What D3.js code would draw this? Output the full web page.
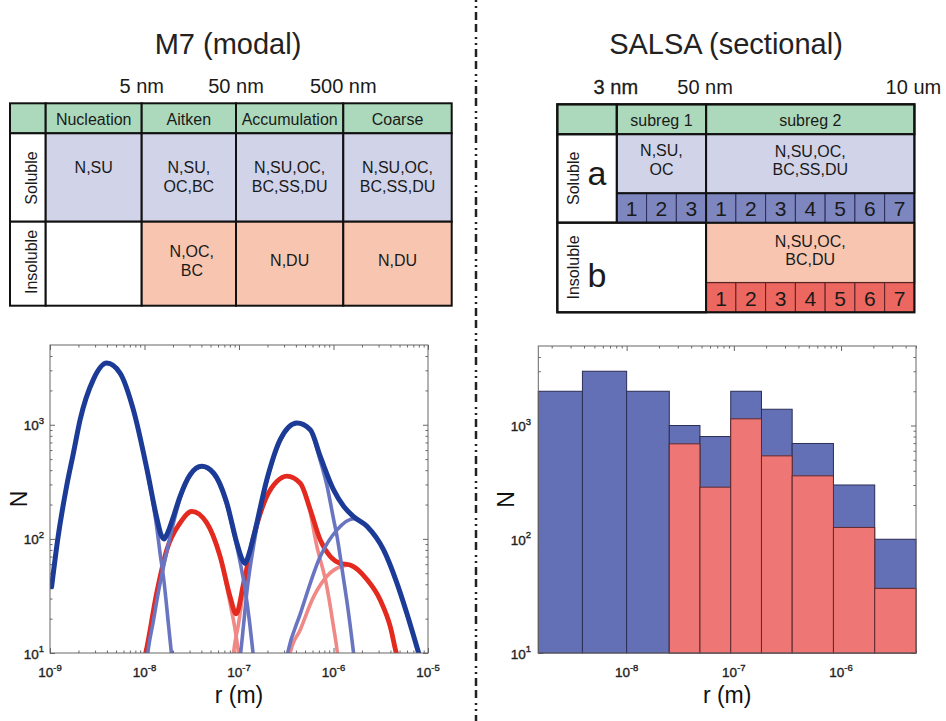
<!DOCTYPE html>
<html>
<head>
<meta charset="utf-8">
<script src="https://cdn.jsdelivr.net/npm/d3@7"></script>
<style>
  body { margin: 0; background: #fff; }
  svg { display: block; font-family: "Liberation Sans", Arial, Helvetica, sans-serif; }
</style>
</head>
<body>
<div id="chart"></div>
<script>
// ---- table contents ----
var m7Modes = ["Nucleation", "Aitken", "Accumulation", "Coarse"];
var m7Sizes = ["5 nm", "50 nm", "500 nm"];
var m7Soluble = [["N,SU"], ["N,SU,", "OC,BC"], ["N,SU,OC,", "BC,SS,DU"], ["N,SU,OC,", "BC,SS,DU"]];
var m7Insoluble = [[], ["N,OC,", "BC"], ["N,DU"], ["N,DU"]];

var salsaSizes = ["3 nm", "50 nm", "10 um"];
var salsaSubregs = ["subreg 1", "subreg 2"];
var salsaSoluble = [["N,SU,", "OC"], ["N,SU,OC,", "BC,SS,DU"]];
var salsaInsoluble = ["N,SU,OC,", "BC,DU"];
var salsaBinsA = [1, 2, 3, 1, 2, 3, 4, 5, 6, 7];
var salsaBinsB = [1, 2, 3, 4, 5, 6, 7];

// ---- M7 curves, [r (m), N] ----
var nuclSol = [[1.04e-9,38],[1.22e-9,105],[1.50e-9,290],[1.77e-9,565],[2.08e-9,1100],[2.88e-9,2500],[3.98e-9,3470],[5.51e-9,2840],[7.63e-9,1350],[1.06e-8,400],[1.35e-8,125],[1.46e-8,75],[1.61e-8,42],[1.79e-8,18],[1.95e-8,9],[2.1e-8,5]];
var aitkenSol = [[1.05e-8,8],[1.10e-8,11],[1.24e-8,19],[1.40e-8,34],[1.61e-8,60],[1.87e-8,105],[2.38e-8,225],[3.04e-8,360],[4.04e-8,432],[5.37e-8,372],[7.43e-8,198],[8.75e-8,115],[1.03e-7,62],[1.16e-7,36],[1.29e-7,19],[1.39e-7,11],[1.45e-7,8]];
var accumSol = [[1.0e-7,8],[1.04e-7,10],[1.12e-7,18],[1.21e-7,34],[1.43e-7,88],[1.97e-7,322],[2.73e-7,725],[4.10e-7,1035],[5.68e-7,895],[7.24e-7,485],[8.51e-7,295],[1.0e-6,150],[1.09e-6,105],[1.28e-6,44],[1.39e-6,28],[1.63e-6,10],[1.75e-6,6]];
var coarseSol = [[3.1e-7,8],[3.27e-7,10],[4.45e-7,22],[7.24e-7,70],[1.09e-6,120],[1.63e-6,150],[2.26e-6,129],[3.39e-6,80],[4.69e-6,41],[6.0e-6,22],[7.96e-6,10],[9.0e-6,7]];
var totalSol = [[1.04e-9,38],[1.22e-9,105],[1.50e-9,290],[1.77e-9,565],[2.08e-9,1100],[2.88e-9,2500],[3.98e-9,3470],[5.51e-9,2840],[7.63e-9,1350],[1.06e-8,410],[1.35e-8,152],[1.50e-8,108],[1.61e-8,100],[1.75e-8,112],[2.0e-8,152],[2.38e-8,236],[3.04e-8,365],[4.04e-8,432],[5.37e-8,378],[7.43e-8,206],[9.48e-8,92],[1.08e-7,66],[1.16e-7,61],[1.25e-7,70],[1.43e-7,105],[1.97e-7,330],[2.73e-7,740],[4.10e-7,1035],[5.68e-7,904],[7.24e-7,528],[1.0e-6,270],[1.28e-6,193],[1.63e-6,157],[2.26e-6,129],[3.39e-6,80],[4.69e-6,41],[6.0e-6,22],[7.96e-6,10],[9.0e-6,7]];

var aitkenIns = [[1.0e-8,9],[1.03e-8,10],[1.35e-8,34],[1.72e-8,80],[2.38e-8,138],[3.17e-8,174],[4.56e-8,138],[6.32e-8,70],[8.06e-8,27],[9.10e-8,16],[9.88e-8,10],[1.04e-7,7]];
var accumIns = [[8.4e-8,7],[8.75e-8,10],[9.88e-8,18],[1.12e-7,36],[1.43e-7,100],[1.97e-7,236],[2.52e-7,319],[3.21e-7,355],[4.45e-7,300],[5.22e-7,230],[6.67e-7,86],[8.51e-7,38],[1.0e-6,17],[1.10e-6,10],[1.15e-6,7]];
var coarseIns = [[3.3e-7,7],[3.48e-7,10],[4.45e-7,16],[6.15e-7,31],[8.51e-7,47],[1.18e-6,57],[1.50e-6,59],[2.26e-6,44],[3.13e-6,29],[3.99e-6,17],[4.62e-6,10],[5.0e-6,8]];
var totalIns = [[1.0e-8,9],[1.03e-8,10],[1.35e-8,34],[1.72e-8,80],[2.38e-8,138],[3.17e-8,174],[4.56e-8,138],[6.32e-8,70],[8.06e-8,31],[9.33e-8,22],[1.12e-7,41],[1.43e-7,105],[1.97e-7,236],[2.52e-7,319],[3.21e-7,355],[4.45e-7,308],[5.68e-7,180],[7.24e-7,98],[9.25e-7,70],[1.18e-6,61],[1.50e-6,59],[2.26e-6,44],[3.13e-6,29],[3.99e-6,17],[4.62e-6,10],[5.0e-6,8]];

// ---- SALSA bins ----
var binEdges = [1.5e-9, 3.87e-9, 1.0e-8, 2.5e-8, 4.83e-8, 9.35e-8, 1.81e-7, 3.5e-7, 8.49e-7, 2.06e-6, 5.0e-6];
var binTotal = [2000, 3000, 2000, 1000, 800, 2000, 1390, 695, 300, 100];
var binInsoluble = [null, null, null, 690, 287, 1145, 541, 361, 127, 37];

// ---- colours ----
var green = "#acd9bb", lavender = "#d1d3e8", salmon = "#f8c6b0";
var boxBlue = "#7e86c0", boxRed = "#ec675f";
var lineBlue = "#1c3b97", lineBlueLight = "#6a75c2", lineRed = "#e4291f", lineRedLight = "#f08886";
var barBlue = "#6470b6", barRed = "#ee7674";
var ink = "#1a1a1a";

var svg = d3.select("#chart").append("svg")
    .attr("width", 946)
    .attr("height", 721);

// dash-dot divider
svg.append("line")
    .attr("x1", 476).attr("x2", 476).attr("y1", 0).attr("y2", 721)
    .attr("stroke", "#222").attr("stroke-width", 2.5)
    .attr("stroke-dasharray", "2,4,2,4,8,4,8,5");

svg.append("text").attr("x", 228).attr("y", 54).attr("text-anchor", "middle")
    .attr("font-size", 29).attr("fill", "#222").text("M7 (modal)");
svg.append("text").attr("x", 726).attr("y", 54).attr("text-anchor", "middle")
    .attr("font-size", 29).attr("fill", "#222").text("SALSA (sectional)");

// write multi-line text centred on x, first baseline at y
function lines(g, arr, x, y, lh) {
  var t = g.append("text").attr("text-anchor", "middle").attr("font-size", 16).attr("fill", ink);
  arr.forEach(function(s, i) {
    t.append("tspan").attr("x", x).attr("y", y + i * lh).text(s);
  });
  return t;
}
function rotLabel(g, s, x, y) {
  g.append("text")
      .attr("transform", "translate(" + x + "," + y + ") rotate(-90)")
      .attr("text-anchor", "middle").attr("dy", "0.35em")
      .attr("font-size", 16).attr("fill", ink).text(s);
}
function cell(g, x0, y0, x1, y1, fill, sw) {
  g.append("rect").attr("x", x0).attr("y", y0).attr("width", x1 - x0).attr("height", y1 - y0)
      .attr("fill", fill).attr("stroke", "#111").attr("stroke-width", sw || 2);
}

// ---------- M7 table ----------
var mx = [10, 45.7, 141.7, 236, 343.3, 451.7];
var my = [103.3, 133.3, 221.7, 305.7];
var t1 = svg.append("g");

m7Sizes.forEach(function(s, i) {
  t1.append("text").attr("x", mx[i + 2]).attr("y", 93).attr("text-anchor", "middle")
      .attr("font-size", 20).attr("fill", ink).text(s);
});
cell(t1, mx[0], my[0], mx[1], my[1], green);
cell(t1, mx[0], my[1], mx[1], my[2], "#fff");
cell(t1, mx[0], my[2], mx[1], my[3], "#fff");
m7Modes.forEach(function(m, i) {
  var a = mx[i + 1], b = mx[i + 2], c = (a + b) / 2;
  cell(t1, a, my[0], b, my[1], green);
  cell(t1, a, my[1], b, my[2], lavender);
  cell(t1, a, my[2], b, my[3], m7Insoluble[i].length ? salmon : "#fff");
  lines(t1, [m], c, 125, 19);
  lines(t1, m7Soluble[i], c, 172.5, 19);
  var n = m7Insoluble[i].length;
  lines(t1, m7Insoluble[i], c + (n === 2 ? 3 : 0), 266 - (n - 1) * 9.5, 19);
});
rotLabel(t1, "Soluble", 31, 178);
rotLabel(t1, "Insoluble", 31, 262);

// ---------- SALSA table ----------
var bw = 29.76;
var sx0 = 557.3, sx1 = sx0 + 2 * bw, sx2 = sx1 + 3 * bw, sx3 = sx2 + 7 * bw;
var sy = [104.3, 134.3, 193.3, 222.7, 282.7, 312.3];
var t2 = svg.append("g");

[sx1, sx2, sx3].forEach(function(x, i) {
  t2.append("text").attr("x", x - 1).attr("y", 94).attr("text-anchor", "middle")
      .attr("font-size", 20).attr("fill", ink)
      .attr("stroke", i === 0 ? ink : "none").attr("stroke-width", 0.3)
      .text(salsaSizes[i]);
});
cell(t2, sx0, sy[0], sx1, sy[1], green);
cell(t2, sx1, sy[0], sx2, sy[1], green);
cell(t2, sx2, sy[0], sx3, sy[1], green);
lines(t2, [salsaSubregs[0]], (sx1 + sx2) / 2, 126, 19);
lines(t2, [salsaSubregs[1]], (sx2 + sx3) / 2, 126, 19);

cell(t2, sx0, sy[1], sx1, sy[3], "#fff");
cell(t2, sx1, sy[1], sx2, sy[2], lavender, 1.5);
cell(t2, sx2, sy[1], sx3, sy[2], lavender, 1.5);
lines(t2, salsaSoluble[0], (sx1 + sx2) / 2, 156, 18.6);
lines(t2, salsaSoluble[1], (sx2 + sx3) / 2, 156.5, 18.6);

t2.selectAll(".boxa").data(salsaBinsA).enter().append("rect")
    .attr("x", function(d, i) { return sx1 + i * bw; })
    .attr("y", sy[2]).attr("width", bw).attr("height", sy[3] - sy[2])
    .attr("fill", boxBlue).attr("stroke", "#2a2d55").attr("stroke-width", 1);
t2.selectAll(".numa").data(salsaBinsA).enter().append("text")
    .attr("x", function(d, i) { return sx1 + (i + 0.5) * bw; })
    .attr("y", 216).attr("text-anchor", "middle").attr("font-size", 21).attr("fill", ink)
    .text(function(d) { return d; });

cell(t2, sx0, sy[3], sx2, sy[5], "#fff");
cell(t2, sx2, sy[3], sx3, sy[4], salmon, 1.5);
lines(t2, salsaInsoluble, (sx2 + sx3) / 2, 246.5, 18.6);
t2.selectAll(".boxb").data(salsaBinsB).enter().append("rect")
    .attr("x", function(d, i) { return sx2 + i * bw; })
    .attr("y", sy[4]).attr("width", bw).attr("height", sy[5] - sy[4])
    .attr("fill", boxRed).attr("stroke", "#5a2228").attr("stroke-width", 1);
t2.selectAll(".numb").data(salsaBinsB).enter().append("text")
    .attr("x", function(d, i) { return sx2 + (i + 0.5) * bw; })
    .attr("y", 305.5).attr("text-anchor", "middle").attr("font-size", 21).attr("fill", ink)
    .text(function(d) { return d; });

// heavy table lines
t2.append("rect").attr("x", sx0).attr("y", sy[0]).attr("width", sx3 - sx0).attr("height", sy[5] - sy[0])
    .attr("fill", "none").attr("stroke", "#111").attr("stroke-width", 2.2);
[[sx0, sy[1], sx3, sy[1]], [sx0, sy[3], sx3, sy[3]], [sx1, sy[0], sx1, sy[3]],
 [sx2, sy[0], sx2, sy[5]], [sx1, sy[2], sx3, sy[2]]].forEach(function(l) {
  t2.append("line").attr("x1", l[0]).attr("y1", l[1]).attr("x2", l[2]).attr("y2", l[3])
      .attr("stroke", "#111").attr("stroke-width", 2);
});
rotLabel(t2, "Soluble", 573.3, 178.3);
rotLabel(t2, "Insoluble", 573.3, 267.5);
t2.append("text").attr("x", 597).attr("y", 185).attr("text-anchor", "middle")
    .attr("font-size", 34).attr("fill", ink).text("a");
t2.append("text").attr("x", 597).attr("y", 287).attr("text-anchor", "middle")
    .attr("font-size", 34).attr("fill", ink).text("b");

// ---------- log axes helpers ----------
function powerTicks(dom) {
  var out = [];
  for (var e = Math.floor(Math.log10(dom[0])); e <= Math.ceil(Math.log10(dom[1])); e++) {
    var v = Math.pow(10, e);
    if (v >= dom[0] * 0.999 && v <= dom[1] * 1.001) out.push(v);
  }
  return out;
}
function minorTicks(dom) {
  var out = [];
  for (var e = Math.floor(Math.log10(dom[0])); e <= Math.ceil(Math.log10(dom[1])); e++)
    for (var m = 2; m <= 9; m++) {
      var v = m * Math.pow(10, e);
      if (v > dom[0] && v < dom[1]) out.push(v);
    }
  return out;
}
function expLabel(t, v) {
  t.append("tspan").text("10");
  t.append("tspan").attr("dy", -6.5).attr("font-size", 9.5).text(Math.round(Math.log10(v)));
}
function drawTicks(g, x, y) {
  var xr = x.range(), yr = y.range();
  var specs = [
    [d3.axisBottom(x), "translate(0," + yr[0] + ")", x],
    [d3.axisTop(x), "translate(0," + yr[1] + ")", x],
    [d3.axisLeft(y), "translate(" + xr[0] + ",0)", y],
    [d3.axisRight(y), "translate(" + xr[1] + ",0)", y]
  ];
  specs.forEach(function(s) {
    var dom = s[2].domain();
    var a = g.append("g").attr("transform", s[1]);
    a.call(s[0].tickValues(powerTicks(dom)).tickSize(-5).tickFormat(""));
    a.append("g").call(s[0].tickValues(minorTicks(dom)).tickSize(-2.5).tickFormat(""));
    a.selectAll(".domain").remove();
    a.selectAll("line").attr("stroke", "#666");
  });
}
function drawLabels(g, x, y, xLabels, yLabelX, nX) {
  var yr = y.range(), xr = x.range();
  xLabels.forEach(function(v) {
    var t = g.append("text").attr("x", x(v)).attr("y", 677).attr("text-anchor", "middle")
        .attr("font-size", 13.5).attr("fill", "#222")
        .attr("stroke", "#222").attr("stroke-width", 0.35);
    expLabel(t, v);
  });
  powerTicks(y.domain()).forEach(function(v) {
    var t = g.append("text").attr("x", yLabelX).attr("y", y(v) + 5.5).attr("text-anchor", "end")
        .attr("font-size", 13.5).attr("fill", "#222")
        .attr("stroke", "#222").attr("stroke-width", 0.35);
    expLabel(t, v);
  });
  g.append("text").attr("transform", "translate(" + nX + "," + ((yr[0] + yr[1]) / 2 + 0) + ") rotate(-90)")
      .attr("text-anchor", "middle").attr("dy", "0.35em").attr("font-size", 23).attr("fill", "#111").text("N");
  g.append("text").attr("x", (xr[0] + xr[1]) / 2 + 0).attr("y", 703).attr("text-anchor", "middle")
      .attr("font-size", 23).attr("fill", "#111").text("r (m)");
}

// ---------- M7 size distribution ----------
var xL = d3.scaleLog().domain([1e-9, 1e-5]).range([50, 428]);
var yL = d3.scaleLog().domain([10, 5000]).range([653, 345]);
var p1 = svg.append("g");
p1.append("clipPath").attr("id", "clipL").append("rect")
    .attr("x", 50).attr("y", 345).attr("width", 378).attr("height", 308);
drawTicks(p1, xL, yL);

var line = d3.line()
    .x(function(d) { return xL(d[0]); })
    .y(function(d) { return yL(d[1]); })
    .curve(d3.curveMonotoneX);
var curves = [
  [aitkenIns, lineRedLight, 3.6], [accumIns, lineRedLight, 3.6], [coarseIns, lineRedLight, 3.6],
  [totalIns, lineRed, 4.8],
  [nuclSol, lineBlueLight, 3.6], [aitkenSol, lineBlueLight, 3.6], [accumSol, lineBlueLight, 3.6], [coarseSol, lineBlueLight, 3.6],
  [totalSol, lineBlue, 5]
];
var lg = p1.append("g").attr("clip-path", "url(#clipL)");
lg.selectAll("path").data(curves).enter().append("path")
    .attr("d", function(c) { return line(c[0]); })
    .attr("fill", "none")
    .attr("stroke", function(c) { return c[1]; })
    .attr("stroke-width", function(c) { return c[2]; })
    .attr("stroke-linejoin", "round").attr("stroke-linecap", "round");
p1.append("rect").attr("x", 50).attr("y", 345).attr("width", 378).attr("height", 308)
    .attr("fill", "none").attr("stroke", "#666").attr("stroke-width", 1);
drawLabels(p1, xL, yL, powerTicks(xL.domain()), 44, 18.5);

// ---------- SALSA size distribution ----------
var xR = d3.scaleLog().domain([1.5e-9, 5e-6]).range([538.3, 916]);
var yR = d3.scaleLog().domain([10, 5000]).range([653, 346]);
var p2 = svg.append("g");
drawTicks(p2, xR, yR);
var bins = binTotal.map(function(v, i) {
  return {x0: binEdges[i], x1: binEdges[i + 1], tot: v, ins: binInsoluble[i]};
});
p2.selectAll(".bt").data(bins).enter().append("rect")
    .attr("x", function(d) { return xR(d.x0); })
    .attr("width", function(d) { return xR(d.x1) - xR(d.x0); })
    .attr("y", function(d) { return yR(d.tot); })
    .attr("height", function(d) { return yR(10) - yR(d.tot); })
    .attr("fill", barBlue).attr("stroke", "#2b2e55").attr("stroke-width", 1);
p2.selectAll(".bi").data(bins.filter(function(d) { return d.ins; })).enter().append("rect")
    .attr("x", function(d) { return xR(d.x0); })
    .attr("width", function(d) { return xR(d.x1) - xR(d.x0); })
    .attr("y", function(d) { return yR(d.ins); })
    .attr("height", function(d) { return yR(10) - yR(d.ins); })
    .attr("fill", barRed).attr("stroke", "#5e2a30").attr("stroke-width", 1);
p2.append("rect").attr("x", 538.3).attr("y", 346).attr("width", 916 - 538.3).attr("height", 307)
    .attr("fill", "none").attr("stroke", "#666").attr("stroke-width", 1);
drawLabels(p2, xR, yR, powerTicks(xR.domain()), 531, 505.8);
</script>
</body>
</html>
